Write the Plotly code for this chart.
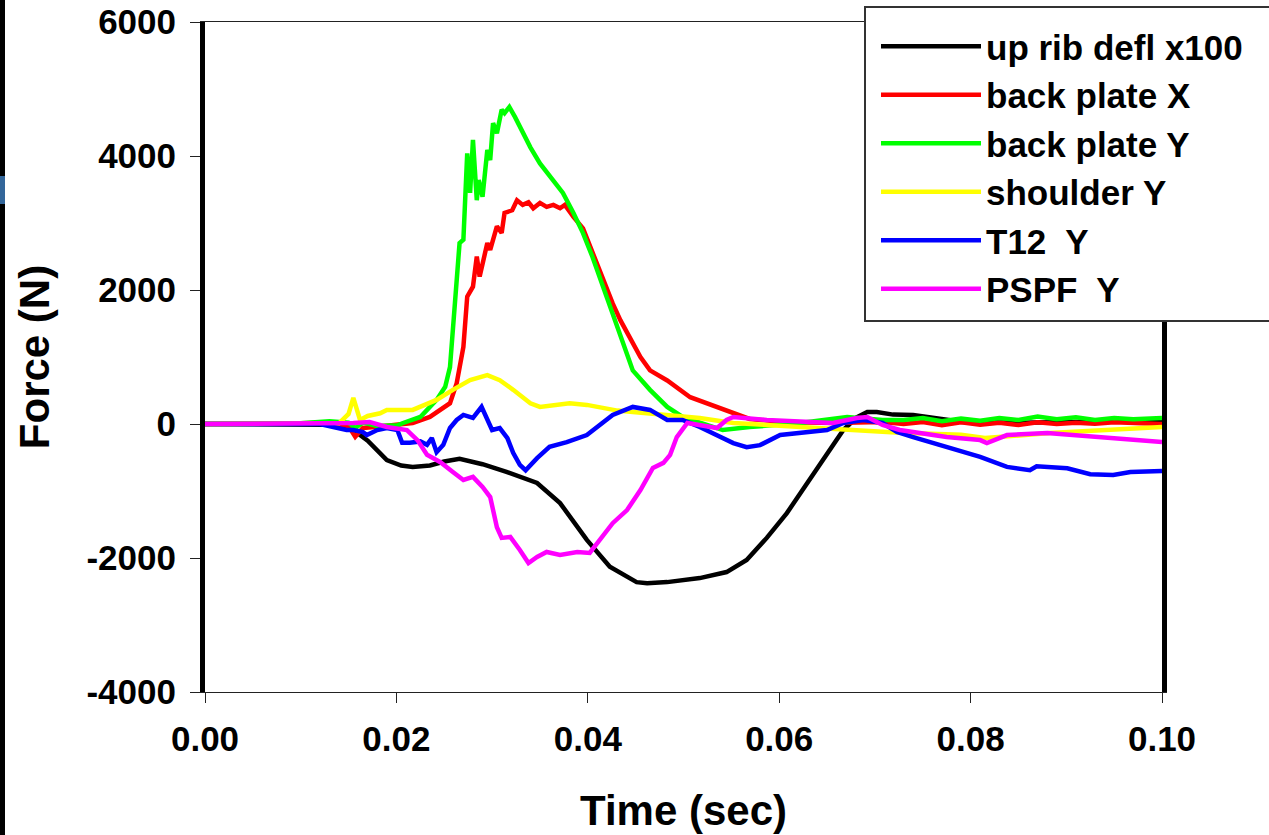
import plotly.graph_objects as go

# ---------------- data ----------------
x_tick_vals = [0.0, 0.02, 0.04, 0.06, 0.08, 0.10]
x_tick_text = ["0.00", "0.02", "0.04", "0.06", "0.08", "0.10"]
y_tick_vals = [-4000, -2000, 0, 2000, 4000, 6000]
y_tick_text = ["-4000", "-2000", "0", "2000", "4000", "6000"]

t_black = [0, 0.005, 0.010, 0.0130, 0.0148, 0.0155, 0.0170, 0.0190, 0.0205, 0.0217, 0.0235,
           0.0250, 0.0266, 0.0290, 0.0315, 0.0347, 0.0371, 0.0399, 0.0423, 0.0451, 0.0462,
           0.0483, 0.0517, 0.0545, 0.0566, 0.0587, 0.0608, 0.0629, 0.0650, 0.0667, 0.0681,
           0.0692, 0.0702, 0.0719, 0.0740, 0.0775, 0.0792, 0.0850, 0.0900, 0.0950, 0.1000]
f_black = [0, 0, 0, -10, -40, -90, -250, -540, -620, -640, -620,
           -560, -520, -600, -715, -880, -1180, -1730, -2130, -2360, -2375,
           -2360, -2300, -2210, -2030, -1700, -1330, -880, -430, -90, 100,
           180, 180, 140, 135, 75, 30, 20, 30, 40, 50]

t_red = [0, 0.005, 0.010, 0.013, 0.0150, 0.0157, 0.0165, 0.0180, 0.0201, 0.0217, 0.0235,
         0.0256, 0.0263, 0.0270, 0.0274, 0.0280, 0.0284, 0.0287, 0.0295, 0.0298, 0.0305,
         0.0310, 0.0313, 0.0321, 0.0326, 0.0332, 0.0338, 0.0343, 0.0350, 0.0357, 0.0364,
         0.0371, 0.0376, 0.0385, 0.0395, 0.0405, 0.0416, 0.0426, 0.0434, 0.0445, 0.0455,
         0.0465, 0.0483, 0.0507, 0.0535, 0.0552, 0.0569, 0.0604, 0.0656, 0.0708, 0.0730,
         0.0750, 0.0770, 0.0790, 0.0810, 0.0830, 0.0850, 0.0870, 0.0890, 0.0910, 0.0930,
         0.0950, 0.0970, 0.1000]
f_red = [0, 0, 10, 20, -30, -190, -60, -40, -10, 15, 105,
         310, 610, 1150, 1900, 2050, 2500, 2200, 2700, 2600, 2950,
         2850, 3150, 3190, 3340, 3270, 3310, 3220, 3300, 3240, 3270,
         3220, 3270, 3090, 2920, 2550, 2150, 1800, 1550, 1250, 1000,
         800, 650, 400, 255, 160, 75, 30, 15, 30, 0,
         30, -20, 25, -10, 20, -15, 25, 0, 20, 5,
         25, 10, 0]

t_green = [0, 0.005, 0.010, 0.013, 0.0150, 0.0157, 0.0165, 0.0180, 0.0201, 0.0207, 0.0225,
           0.0242, 0.0251, 0.0256, 0.0259, 0.0263, 0.0266, 0.0270, 0.0272, 0.0274, 0.0277,
           0.0280, 0.0284, 0.0286, 0.0290, 0.0295, 0.0298, 0.0301, 0.0305, 0.0310, 0.0313,
           0.0318, 0.0324, 0.0329, 0.0340, 0.0350, 0.0364, 0.0374, 0.0385, 0.0395, 0.0405,
           0.0416, 0.0426, 0.0434, 0.0447, 0.0465, 0.0483, 0.0499, 0.0517, 0.0541, 0.0569,
           0.0622, 0.0671, 0.0708, 0.0730, 0.0750, 0.0770, 0.0790, 0.0810, 0.0830, 0.0850,
           0.0870, 0.0890, 0.0910, 0.0930, 0.0950, 0.0970, 0.1000]
f_green = [0, 0, 10, 40, 20, -60, 20, -30, -20, 15, 105,
           360, 555, 850, 1350, 2050, 2700, 2750, 3340, 4040, 3450,
           4240, 3340, 3640, 3390, 4090, 3940, 4490, 4340, 4690, 4640,
           4730, 4580, 4430, 4130, 3890, 3640, 3450, 3150, 2850, 2490,
           2050, 1660, 1300, 800, 510, 255, 105, 15, -90, -45,
           15, 105, 60, 60, 90, 40, 80, 50, 90, 60,
           110, 70, 100, 60, 90, 70, 90]

t_yellow = [0, 0.005, 0.010, 0.0140, 0.0150, 0.0155, 0.0162, 0.0170, 0.0183, 0.0190, 0.0217,
            0.0242, 0.0259, 0.0277, 0.0295, 0.0308, 0.0322, 0.0340, 0.0350, 0.0381, 0.0399,
            0.0416, 0.0431, 0.0447, 0.0483, 0.0517, 0.0552, 0.0587, 0.0622, 0.0656, 0.0692,
            0.0726, 0.0790, 0.0815, 0.0883, 0.0950, 0.1000]
f_yellow = [0, 0, 0, 10, 150, 390, 60, 120, 160, 210, 210,
            360, 510, 655, 730, 655, 510, 310, 255, 310, 285,
            240, 200, 180, 135, 90, 15, -15, -45, -60, -90,
            -130, -160, -210, -135, -90, -45]

t_blue = [0, 0.005, 0.010, 0.0120, 0.0148, 0.0155, 0.0165, 0.0169, 0.0180, 0.0190, 0.0201,
          0.0206, 0.0214, 0.0225, 0.0232, 0.0237, 0.0242, 0.0249, 0.0256, 0.0263, 0.0270,
          0.0280, 0.0289, 0.0295, 0.0300, 0.0308, 0.0316, 0.0322, 0.0329, 0.0335, 0.0347,
          0.0360, 0.0378, 0.0399, 0.0416, 0.0426, 0.0447, 0.0465, 0.0483, 0.0499, 0.0517,
          0.0535, 0.0552, 0.0566, 0.0580, 0.0601, 0.0622, 0.0650, 0.0667, 0.0688, 0.0708,
          0.0723, 0.0740, 0.0775, 0.0810, 0.0838, 0.0862, 0.0869, 0.0901, 0.0925, 0.0949,
          0.0967, 0.1000]
f_blue = [0, 0, -10, 0, -90, -90, -120, -165, -90, -60, -90,
          -280, -280, -260, -310, -210, -420, -310, -60, 60, 135,
          90, 255, 60, -90, -60, -210, -430, -610, -690, -510,
          -340, -270, -165, 15, 135, 255, 210, 60, 60, -45,
          -165, -285, -345, -315, -165, -135, -90, 15, 60, 15,
          -120, -195, -345, -490, -640, -690, -630, -660, -750, -760,
          -715, -700]

t_magenta = [0, 0.005, 0.010, 0.0120, 0.0155, 0.0172, 0.0190, 0.0211, 0.0222, 0.0232, 0.0246,
             0.0259, 0.0270, 0.0280, 0.0290, 0.0298, 0.0301, 0.0305, 0.0310, 0.0319, 0.0329,
             0.0338, 0.0347, 0.0357, 0.0371, 0.0389, 0.0402, 0.0413, 0.0426, 0.0441, 0.0455,
             0.0468, 0.0479, 0.0486, 0.0493, 0.0504, 0.0520, 0.0535, 0.0545, 0.0552, 0.0587,
             0.0622, 0.0656, 0.0681, 0.0692, 0.0708, 0.0726, 0.0775, 0.0810, 0.0817, 0.0838,
             0.0880, 0.0932, 0.0967, 0.1000]
f_magenta = [0, 0, 0, 15, 15, 30, -45, -90, -240, -460, -570,
             -715, -835, -790, -940, -1090, -1285, -1540, -1700, -1685, -1880,
             -2075, -1985, -1910, -1955, -1910, -1925, -1730, -1480, -1285, -985,
             -655, -580, -460, -195, 15, -15, -60, 60, 105, 60,
             30, 15, 90, 105, -15, -90, -195, -240, -285, -165,
             -135, -195, -240, -270]

series_names = ["up rib defl x100", "back plate X", "back plate Y", "shoulder Y", "T12  Y", "PSPF  Y"]
series_colors = ["#000000", "#FF0000", "#00FF00", "#FFFF00", "#0000FF", "#FF00FF"]
series_t = [t_black, t_red, t_green, t_yellow, t_blue, t_magenta]
series_f = [f_black, f_red, f_green, f_yellow, f_blue, f_magenta]

# ---------------- figure ----------------
FONT = "Liberation Sans, Arial, Helvetica, sans-serif"
W, H = 1269, 835
ML, MR, MT, MB = 205, 107, 22, 143
PW, PH = W - ML - MR, H - MT - MB


def px_x(p):
    return (p - ML) / PW


def px_y(p):
    return (H - MB - p) / PH


fig = go.Figure()
for name, color, tt, ff in zip(series_names, series_colors, series_t, series_f):
    fig.add_trace(go.Scatter(x=tt, y=ff, mode="lines", name=name,
                             line=dict(color=color, width=4.5)))

shapes = [
    # legend box (white, covers the plot like the original)
    dict(type="rect", xref="paper", yref="paper", layer="above",
         x0=px_x(865), x1=px_x(1280), y0=px_y(321), y1=px_y(7),
         fillcolor="white", line=dict(color="#333333", width=2)),
    # slide edge decoration on the far left
    dict(type="rect", xref="paper", yref="paper", layer="above",
         x0=px_x(0), x1=px_x(5), y0=px_y(840), y1=px_y(-5),
         fillcolor="black", line=dict(width=0)),
    dict(type="rect", xref="paper", yref="paper", layer="above",
         x0=px_x(0), x1=px_x(5), y0=px_y(204), y1=px_y(176),
         fillcolor="#33669A", line=dict(width=0)),
]

fig.update_layout(
    width=W, height=H,
    margin=dict(l=ML, r=MR, t=MT, b=MB, autoexpand=False),
    paper_bgcolor="white", plot_bgcolor="white",
    font=dict(family=FONT, color="black", size=35, weight="bold"),
    shapes=shapes,
    showlegend=True,
    legend=dict(x=px_x(876), y=px_y(17), xanchor="left", yanchor="top",
                bgcolor="rgba(0,0,0,0)", borderwidth=0,
                font=dict(family=FONT, size=35, color="black", weight="bold"),
                itemwidth=100, tracegroupgap=0),
    xaxis=dict(range=[0, 0.1], tickmode="array", tickvals=x_tick_vals, ticktext=x_tick_text,
               ticks="outside", ticklen=10, tickwidth=1, tickcolor="#222222",
               showline=True, linecolor="#222222", linewidth=1, mirror=True,
               showgrid=False, zeroline=False, ticklabelstandoff=6,
               tickfont=dict(family=FONT, size=35, color="black", weight="bold"),
               title=dict(text="Time (sec)", standoff=38,
                          font=dict(family=FONT, size=42, color="black", weight="bold"))),
    yaxis=dict(range=[-4000, 6000], tickmode="array", tickvals=y_tick_vals, ticktext=y_tick_text,
               ticks="outside", ticklen=10, tickwidth=1, tickcolor="#222222",
               showline=True, linecolor="black", linewidth=5, mirror=True,
               showgrid=False, zeroline=False, ticklabelstandoff=7,
               tickfont=dict(family=FONT, size=35, color="black", weight="bold"),
               title=dict(text="Force (N)", standoff=25,
                          font=dict(family=FONT, size=42, color="black", weight="bold"))),
)

fig.write_html("out.html")
